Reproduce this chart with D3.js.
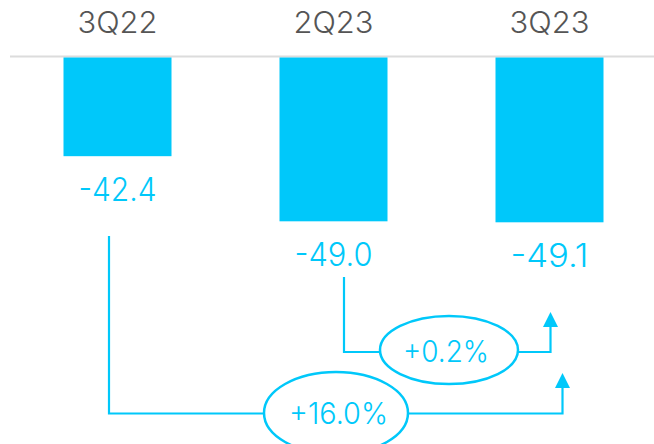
<!DOCTYPE html>
<html><head><meta charset="utf-8">
<script src="https://cdn.jsdelivr.net/npm/d3@7"></script>
<style>html,body{margin:0;padding:0;background:#fff;}svg{display:block;}</style>
</head><body>
<svg id="c" width="654" height="444"></svg>
<script>
const categories = ["3Q22", "2Q23", "3Q23"];
const values = [-42.4, -49.0, -49.1];
const valueLabels = ["-42.4", "-49.0", "-49.1"];
const changes = [
  { from: "2Q23", to: "3Q23", label: "+0.2%" },
  { from: "3Q22", to: "3Q23", label: "+16.0%" }
];
const axisFloor = -32.4;

const W = 654, H = 444;
const cyan = "#00c8fa", grayText = "#555555";
const font = "Inter, 'Open Sans', sans-serif";
const svg = d3.select("#c");

const x = d3.scaleBand().domain(categories).range([9.5, 657.5]).paddingInner(0.5).paddingOuter(0.25);
const y = d3.scaleLinear().domain([axisFloor, -49.1]).range([57.5, 222.3]);

// baseline
svg.append("line").attr("x1", 10).attr("x2", W).attr("y1", 56.5).attr("y2", 56.5)
  .attr("stroke", "#dcdcdc").attr("stroke-width", 2);

// bars
svg.selectAll("rect.bar").data(values).join("rect")
  .attr("x", (d, i) => x(categories[i]))
  .attr("width", x.bandwidth())
  .attr("y", y(axisFloor))
  .attr("height", d => y(d) - y(axisFloor))
  .attr("fill", cyan);

// category labels
svg.selectAll("text.cat").data(categories).join("text")
  .attr("x", d => x(d) + x.bandwidth() / 2)
  .attr("y", 33)
  .attr("text-anchor", "middle")
  .attr("font-family", font).attr("font-size", 30).attr("font-weight", 300)
  .attr("fill", grayText)
  .attr("textLength", 80).attr("lengthAdjust", "spacingAndGlyphs")
  .text(d => d);

// value labels
svg.selectAll("text.val").data(values).join("text")
  .attr("x", (d, i) => x(categories[i]) + x.bandwidth() / 2)
  .attr("y", d => y(d) + 44.5)
  .attr("text-anchor", "middle")
  .attr("font-family", font).attr("font-size", 32).attr("font-weight", 300)
  .attr("fill", cyan)
  .attr("textLength", 78).attr("lengthAdjust", "spacingAndGlyphs")
  .text((d, i) => valueLabels[i]);

// change annotations
const cx = c => x(c) + x.bandwidth() / 2;
const ann = [
  { c: changes[0], sx: cx("2Q23") + 10.5, sy: 277, hy: 352, ex: cx("3Q23") + 1, tip: 312,
    ecx: 449, ecy: 350, rx: 69, ry: 34, tlen: 86, tx: 446, ty: 362 },
  { c: changes[1], sx: cx("3Q22") - 8.5, sy: 236, hy: 413.5, ex: cx("3Q23") + 13, tip: 373,
    ecx: 336, ecy: 413, rx: 72, ry: 41, tlen: 99, tx: 338.5, ty: 424 }
];
ann.forEach(a => {
  const g = svg.append("g");
  g.append("path")
    .attr("d", `M${a.sx},${a.sy} V${a.hy} H${a.ex} V${a.tip + 14}`)
    .attr("fill", "none").attr("stroke", cyan).attr("stroke-width", 2.2);
  g.append("path")
    .attr("d", `M${a.ex},${a.tip} L${a.ex + 7.5},${a.tip + 15} L${a.ex - 7.5},${a.tip + 15} Z`)
    .attr("fill", cyan);
  g.append("ellipse")
    .attr("cx", a.ecx).attr("cy", a.ecy).attr("rx", a.rx).attr("ry", a.ry)
    .attr("fill", "#fff").attr("stroke", cyan).attr("stroke-width", 2.5);
  g.append("text")
    .attr("x", a.tx).attr("y", a.ty).attr("text-anchor", "middle")
    .attr("font-family", font).attr("font-size", 30).attr("font-weight", 300)
    .attr("fill", cyan)
    .attr("textLength", a.tlen).attr("lengthAdjust", "spacingAndGlyphs")
    .text(a.c.label);
});
</script>
</body></html>
